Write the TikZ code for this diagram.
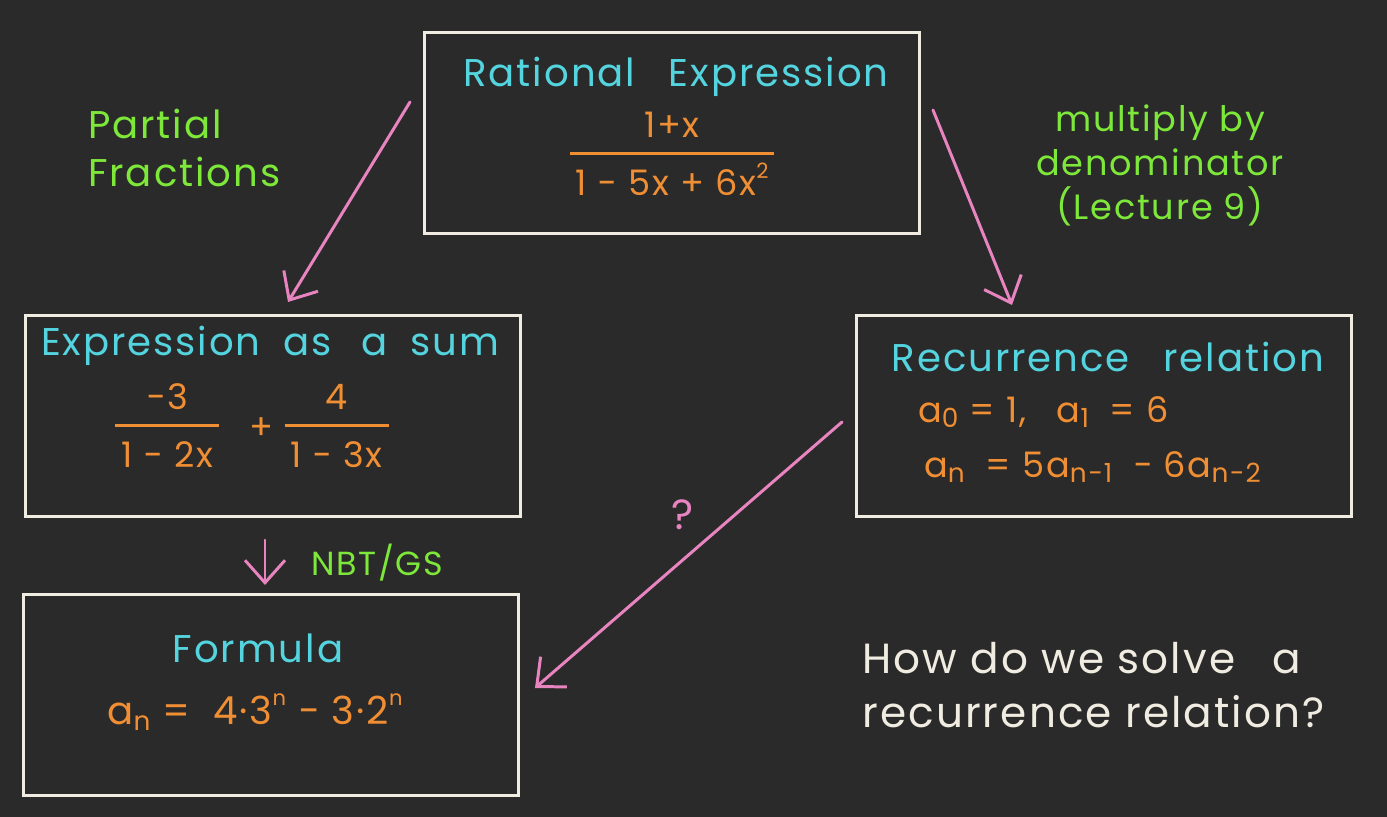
\documentclass[tikz,border=0pt]{standalone}
\usepackage{fontspec}
\setmainfont{Poppins}[LetterSpace=5]
\usetikzlibrary{arrows.meta}
\definecolor{board}{RGB}{42,42,42}
\definecolor{chalk}{RGB}{240,236,225}
\definecolor{titlecyan}{RGB}{84,212,222}
\definecolor{mathorange}{RGB}{240,142,52}
\definecolor{notegreen}{RGB}{126,232,58}
\definecolor{arrowpink}{RGB}{232,132,192}
\setlength{\arrayrulewidth}{1.8pt}
\newcommand{\handfrac}[2]{\begin{tabular}{@{\,}c@{\,}}#1\\[1pt]\hline\rule{0pt}{1.15em}#2\end{tabular}}
\newcommand{\lo}[1]{\raisebox{-0.3ex}{\fontsize{15}{17}\selectfont #1}}
\newcommand{\hi}[1]{\raisebox{0.9ex}{\fontsize{12}{14}\selectfont #1}}
\tikzstyle{panel} = [rectangle, draw=chalk, line width=1.7pt, minimum width=9.92cm, minimum height=4.02cm]
\tikzstyle{heading} = [text=titlecyan, font=\fontsize{22}{26}\selectfont]
\tikzstyle{formula} = [text=mathorange, font=\fontsize{20}{24}\selectfont]
\tikzstyle{note} = [text=notegreen, font=\fontsize{22}{27}\selectfont]
\tikzstyle{arrow} = [draw=arrowpink, line width=1.7pt, line cap=round, -{Straight Barb[length=4.5mm, width=8mm, line width=1.7pt]}]
\begin{document}
\begin{tikzpicture}[x=0.02cm, y=-0.02cm]

      \fill[board] (0,0) rectangle (1387,817);

      % Boxes
      \node (ratbox) [panel] at (672,133) {};
      \node (sumbox) [panel] at (273,416) {};
      \node (recbox) [panel] at (1104,416) {};
      \node (formbox) [panel] at (271,695) {};

      % Box contents
      \node (rattitle) [heading] at (676,77) {Rational\;\; Expression};
      \node (ratfrac) [formula] at (672,158) {\handfrac{1+x}{1 − 5x + 6x\hi{2}}};
      \node (sumtitle) [heading] at (270,346) {Expression\; as\;\, a\; sum};
      \node (sumfrac) [formula] at (252,430) {\handfrac{−3}{1 − 2x}\;\; + \handfrac{4}{1 − 3x}};
      \node (rectitle) [heading] at (1108,357) {Recurrence\;\; relation};
      \node (recinit) [formula, anchor=west] at (912,412) {a\lo{0} = 1,\;\; a\lo{1}\; = 6};
      \node (recstep) [formula, anchor=west] at (918,467) {a\lo{n}\; = 5a\lo{n−1}\; − 6a\lo{n−2}};
      \node (formtitle) [heading] at (258,648) {Formula};
      \node (formeq) [formula, font=\fontsize{22}{26}\selectfont] at (255,712) {a\lo{n} =\; 4·3\hi{n} − 3·2\hi{n}};

      % Notes
      \node (partlab) [note, align=left, anchor=west] at (82,148) {Partial\\Fractions};
      \node (multlab) [note, align=center, font=\fontsize{20}{25}\selectfont] at (1160,165) {multiply by\\denominator\\(Lecture 9)};
      \node (nbtlab) [note, anchor=west, font=\fontsize{19}{22}\selectfont] at (305,563) {NBT/GS};
      \node (qlab) [text=arrowpink, font=\fontsize{24}{28}\selectfont] at (683,515) {?};
      \node (howlab) [text=chalk, align=left, anchor=west, font=\fontsize{24}{31}\selectfont] at (856,685) {How do we solve\;\; a\\recurrence relation?};

      % Arrow ends
      \coordinate (pfstart) at (410,102);
      \coordinate (pfend) at (288,302);
      \coordinate (mdstart) at (933,110);
      \coordinate (mdend) at (1012,305);
      \coordinate (gsstart) at (265,540);
      \coordinate (gsend) at (265,585);
      \coordinate (qstart) at (842,422);
      \coordinate (qend) at (535,688);

      % Arrows
      \draw [arrow] (pfstart) -- (pfend);
      \draw [arrow] (mdstart) -- (mdend);
      \draw [arrow] (gsstart) -- (gsend);
      \draw [arrow] (qstart) -- (qend);

\end{tikzpicture}
\end{document}
